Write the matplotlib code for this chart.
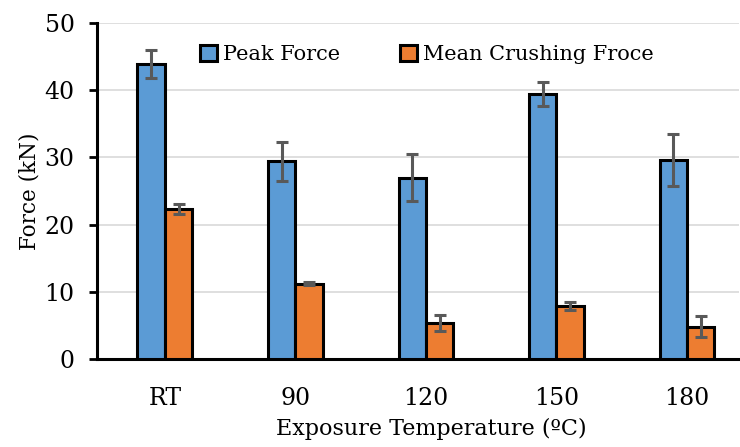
import numpy as np
import matplotlib
import matplotlib.pyplot as plt

matplotlib.use('Agg')

# Data
categories = ['RT', '90', '120', '150', '180']
peak_force = [43.9, 29.4, 27.0, 39.4, 29.6]
peak_err = [2.1, 2.95, 3.5, 1.8, 3.9]
mean_force = [22.3, 11.2, 5.3, 7.9, 4.8]
mean_err = [0.8, 0.2, 1.2, 0.6, 1.6]

plt.rcParams['font.family'] = ['DejaVu Serif']

fig = plt.figure(figsize=(7.4, 4.47), dpi=100)
ax = fig.add_axes([0.131, 0.197, 0.868, 0.7515])

x = np.arange(len(categories))
width = 0.21
err_style = dict(ecolor='#595959', elinewidth=2.2, capsize=4, capthick=2.2)

ax.bar(x - width / 2, peak_force, width, yerr=peak_err, color='#5b9bd5',
       edgecolor='black', linewidth=2.2, label='Peak Force',
       error_kw=err_style, zorder=3)
ax.bar(x + width / 2, mean_force, width, yerr=mean_err, color='#ed7d31',
       edgecolor='black', linewidth=2.2, label='Mean Crushing Froce',
       error_kw=err_style, zorder=3)

# Axes
ax.set_xlim(-0.52, 4.4)
ax.set_ylim(0, 50)
ax.set_yticks(range(0, 51, 10))
ax.set_xticks(x)
ax.set_xticklabels(categories)
ax.tick_params(axis='x', length=0, pad=20, labelsize=17)
ax.tick_params(axis='y', length=6, width=2, labelsize=17, pad=10)
ax.grid(axis='y', color='#d9d9d9', linewidth=1.2, zorder=0)
ax.set_axisbelow(True)
for side in ['top', 'right']:
    ax.spines[side].set_visible(False)
for side in ['left', 'bottom']:
    ax.spines[side].set_linewidth(2.2)

ax.set_ylabel('Force (kN)', fontsize=15.5, labelpad=3)
ax.set_xlabel('Exposure Temperature (ºC)', fontsize=16)
ax.xaxis.set_label_coords(0.52, -0.175)

# Legend
ax.legend(loc='upper center', bbox_to_anchor=(0.514, 0.99), ncol=2,
          frameon=False, fontsize=15, handlelength=0.8, handleheight=0.8,
          handletextpad=0.3, columnspacing=2.9)

plt.savefig('out.png', dpi=100)
